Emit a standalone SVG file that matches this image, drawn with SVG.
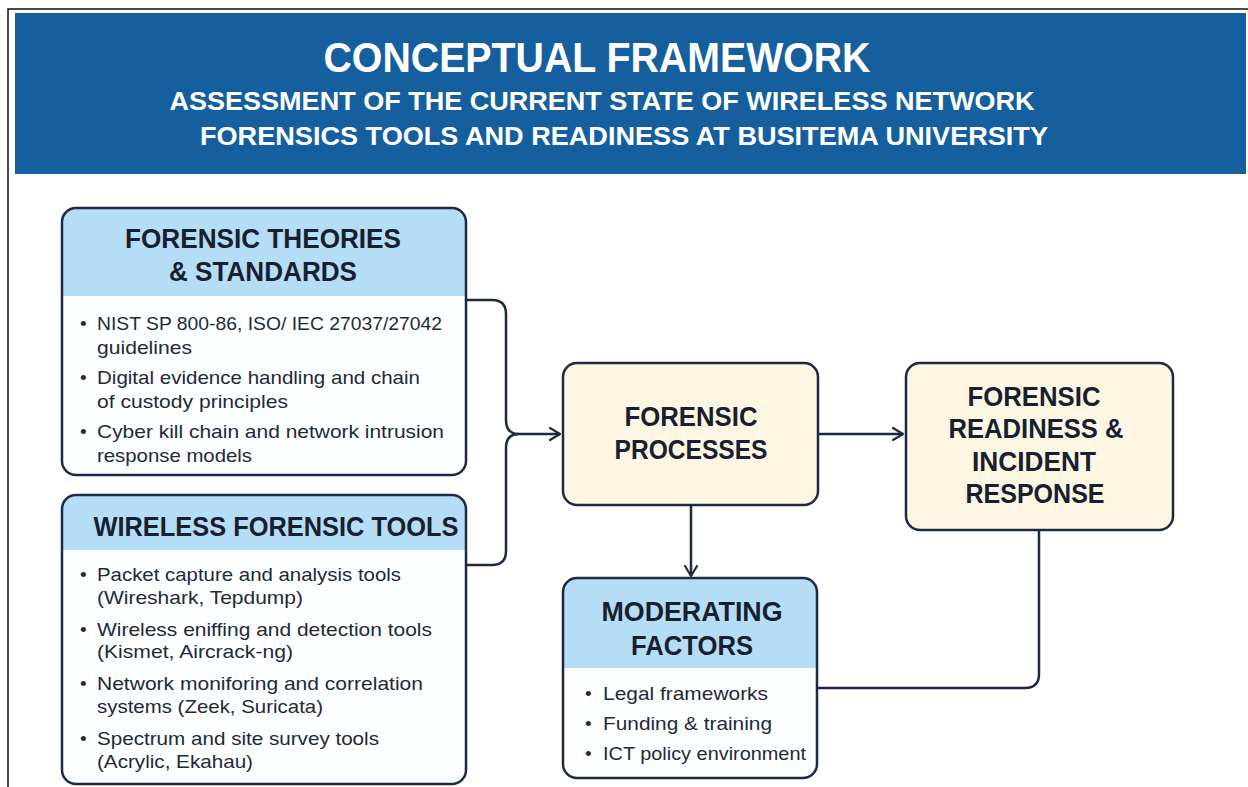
<svg xmlns="http://www.w3.org/2000/svg" width="1248" height="787" viewBox="0 0 1248 787">
  <style>
    .frame { stroke: #111; stroke-width: 1.5; fill: none; }
    .hdr-title { font-family: "Liberation Sans", Arial, sans-serif; font-weight: bold; fill: #ffffff; text-anchor: middle; }
    .box { stroke: #1e2a44; stroke-width: 2.5; }
    .body { fill: #fdfeff; }
    .cream { fill: #fdf6e3; }
    .band { fill: #b6ddf6; }
    .title { font-family: "Liberation Sans", Arial, sans-serif; font-weight: bold; font-size: 27px; fill: #17202f; text-anchor: middle; }
    .item { font-family: "Liberation Sans", Arial, sans-serif; font-size: 19px; fill: #222a36; }
    .wire { fill: none; stroke: #1e2a44; stroke-width: 2.5; stroke-linejoin: round; }
  </style>
  <defs>
    <marker id="arrow" viewBox="0 0 12 14" refX="11" refY="7" markerWidth="12" markerHeight="14" markerUnits="userSpaceOnUse" orient="auto">
      <path d="M1,1 L11,7 L1,13" fill="none" stroke="#1e2a44" stroke-width="2.2" stroke-linecap="round" stroke-linejoin="round"/>
    </marker>
  </defs>

  <rect width="1248" height="787" fill="#ffffff"/>
  <path class="frame" d="M8,787 V9 H1248"/>

  <!-- banner -->
  <g id="banner">
    <rect x="15" y="13" width="1231" height="161" fill="#155f9f"/>
    <text class="hdr-title" x="597" y="72" font-size="42" textLength="547" lengthAdjust="spacingAndGlyphs">CONCEPTUAL FRAMEWORK</text>
    <text class="hdr-title" x="602" y="110" font-size="26" textLength="865" lengthAdjust="spacingAndGlyphs">ASSESSMENT OF THE CURRENT STATE OF WIRELESS NETWORK</text>
    <text class="hdr-title" x="624" y="145" font-size="26" textLength="848" lengthAdjust="spacingAndGlyphs">FORENSICS TOOLS AND READINESS AT BUSITEMA UNIVERSITY</text>
  </g>

  <!-- connectors -->
  <g id="connectors">
    <path class="wire" d="M466,300 H492 Q506,300 506,314 V420 Q506,434 519,434"/>
    <path class="wire" d="M466,565 H492 Q506,565 506,551 V448 Q506,434 519,434"/>
    <path class="wire" d="M519,434 H560" marker-end="url(#arrow)"/>
    <path class="wire" d="M818,434 H903" marker-end="url(#arrow)"/>
    <path class="wire" d="M691,505 V576" marker-end="url(#arrow)"/>
    <path class="wire" d="M817,688 H1025 Q1039,688 1039,674 V530"/>
  </g>

  <!-- theories & standards -->
  <g id="theories">
    <rect class="body" x="62" y="208" width="404" height="267" rx="14"/>
    <path class="band" d="M62,296 V222 Q62,208 76,208 H452 Q466,208 466,222 V296 Z"/>
    <rect class="box" fill="none" x="62" y="208" width="404" height="267" rx="14"/>
    <text class="title" x="263" y="248" textLength="276" lengthAdjust="spacingAndGlyphs">FORENSIC THEORIES</text>
    <text class="title" x="263" y="281" textLength="188" lengthAdjust="spacingAndGlyphs">&amp; STANDARDS</text>
    <text class="item" x="80" y="330">•</text>
    <text class="item" x="97" y="330" textLength="345" lengthAdjust="spacingAndGlyphs">NIST SP 800-86, ISO/ IEC 27037/27042</text>
    <text class="item" x="97" y="354" textLength="95" lengthAdjust="spacingAndGlyphs">guidelines</text>
    <text class="item" x="80" y="384">•</text>
    <text class="item" x="97" y="384" textLength="323" lengthAdjust="spacingAndGlyphs">Digital evidence handling and chain</text>
    <text class="item" x="97" y="408" textLength="191" lengthAdjust="spacingAndGlyphs">of custody principles</text>
    <text class="item" x="80" y="438">•</text>
    <text class="item" x="97" y="438" textLength="347" lengthAdjust="spacingAndGlyphs">Cyber kill chain and network intrusion</text>
    <text class="item" x="97" y="462" textLength="155" lengthAdjust="spacingAndGlyphs">response models</text>
  </g>

  <!-- wireless forensic tools -->
  <g id="tools">
    <rect class="body" x="62" y="495" width="404" height="289" rx="14"/>
    <path class="band" d="M62,550 V509 Q62,495 76,495 H452 Q466,495 466,509 V550 Z"/>
    <rect class="box" fill="none" x="62" y="495" width="404" height="289" rx="14"/>
    <text class="title" x="276" y="536" textLength="365" lengthAdjust="spacingAndGlyphs">WIRELESS FORENSIC TOOLS</text>
    <text class="item" x="80" y="581">•</text>
    <text class="item" x="97" y="581" textLength="304" lengthAdjust="spacingAndGlyphs">Packet capture and analysis tools</text>
    <text class="item" x="97" y="604" textLength="206" lengthAdjust="spacingAndGlyphs">(Wireshark, Tepdump)</text>
    <text class="item" x="80" y="636">•</text>
    <text class="item" x="97" y="636" textLength="335" lengthAdjust="spacingAndGlyphs">Wireless eniffing and detection tools</text>
    <text class="item" x="97" y="658" textLength="196" lengthAdjust="spacingAndGlyphs">(Kismet, Aircrack-ng)</text>
    <text class="item" x="80" y="690">•</text>
    <text class="item" x="97" y="690" textLength="326" lengthAdjust="spacingAndGlyphs">Network moniforing and correlation</text>
    <text class="item" x="97" y="713" textLength="226" lengthAdjust="spacingAndGlyphs">systems (Zeek, Suricata)</text>
    <text class="item" x="80" y="745">•</text>
    <text class="item" x="97" y="745" textLength="282" lengthAdjust="spacingAndGlyphs">Spectrum and site survey tools</text>
    <text class="item" x="97" y="768" textLength="156" lengthAdjust="spacingAndGlyphs">(Acrylic, Ekahau)</text>
  </g>

  <!-- forensic processes -->
  <g id="processes">
    <rect class="box cream" x="563" y="363" width="255" height="142" rx="14"/>
    <text class="title" x="691" y="426" textLength="133" lengthAdjust="spacingAndGlyphs">FORENSIC</text>
    <text class="title" x="691" y="459" textLength="153" lengthAdjust="spacingAndGlyphs">PROCESSES</text>
  </g>

  <!-- readiness & incident response -->
  <g id="readiness">
    <rect class="box cream" x="906" y="363" width="267" height="167" rx="14"/>
    <text class="title" x="1034" y="406" textLength="133" lengthAdjust="spacingAndGlyphs">FORENSIC</text>
    <text class="title" x="1036" y="438" textLength="175" lengthAdjust="spacingAndGlyphs">READINESS &amp;</text>
    <text class="title" x="1034" y="471" textLength="124" lengthAdjust="spacingAndGlyphs">INCIDENT</text>
    <text class="title" x="1035" y="503" textLength="139" lengthAdjust="spacingAndGlyphs">RESPONSE</text>
  </g>

  <!-- moderating factors -->
  <g id="moderating">
    <rect class="body" x="563" y="578" width="254" height="200" rx="14"/>
    <path class="band" d="M563,668 V592 Q563,578 577,578 H803 Q817,578 817,592 V668 Z"/>
    <rect class="box" fill="none" x="563" y="578" width="254" height="200" rx="14"/>
    <text class="title" x="692" y="621" textLength="181" lengthAdjust="spacingAndGlyphs">MODERATING</text>
    <text class="title" x="692" y="655" textLength="122" lengthAdjust="spacingAndGlyphs">FACTORS</text>
    <text class="item" x="585" y="700">•</text>
    <text class="item" x="603" y="700" textLength="165" lengthAdjust="spacingAndGlyphs">Legal frameworks</text>
    <text class="item" x="585" y="730">•</text>
    <text class="item" x="603" y="730" textLength="169" lengthAdjust="spacingAndGlyphs">Funding &amp; training</text>
    <text class="item" x="585" y="760">•</text>
    <text class="item" x="603" y="760" textLength="203" lengthAdjust="spacingAndGlyphs">ICT policy environment</text>
  </g>
</svg>
